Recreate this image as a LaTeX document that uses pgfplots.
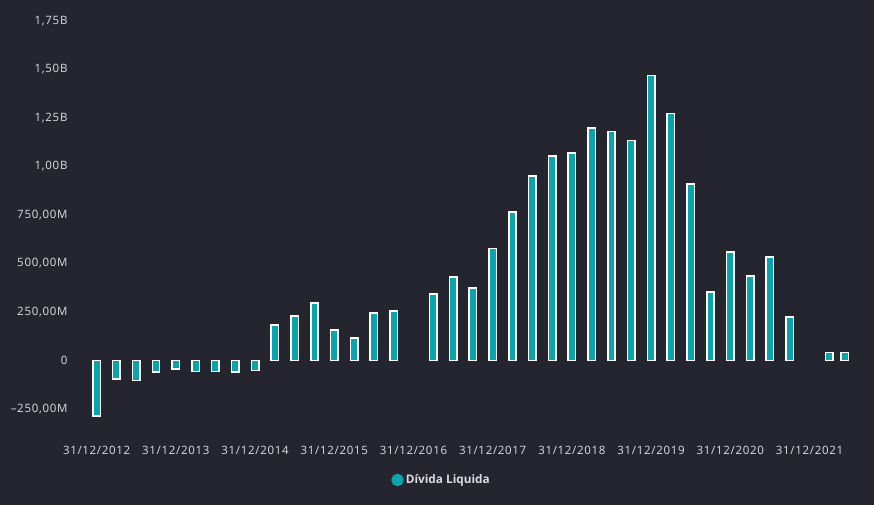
\documentclass[border=0pt]{standalone}
\usepackage{fontspec}
\setmainfont{Open Sans}
\newfontfamily\tickfont[LetterSpace=6,Ligatures=TeX]{Open Sans}
\usepackage{pgfplots}
\pgfplotsset{compat=1.18}
\definecolor{bg}{HTML}{24252F}
\definecolor{barteal}{HTML}{0AA4AF}
\definecolor{lbl}{HTML}{DCDCE2}

\begin{document}
\begin{tikzpicture}
\path[use as bounding box, fill=bg] (-80pt,-86.4pt) rectangle (794pt,418.6pt);
\begin{axis}[
  at={(0,0)}, anchor=south west,
  scale only axis, width=780pt, height=397.6pt,
  xmin=-0.84, xmax=38.55, ymin=-300, ymax=1750,
  enlarge x limits=false,
  axis line style={draw=none},
  tick style={draw=none},
  ybar, bar width=7.4pt,
  xtick={0,4,...,36},
  xticklabels={31/12/2012,31/12/2013,31/12/2014,31/12/2015,31/12/2016,31/12/2017,31/12/2018,31/12/2019,31/12/2020,31/12/2021},
  ytick={-250,0,250,500,750,1000,1250,1500,1750},
  yticklabels={{–250,00M},0,{250,00M},{500,00M},{750,00M},{1,00B},{1,25B},{1,50B},{1,75B}},
  ticklabel style={font=\tickfont\fontsize{11.5}{13}\selectfont, text=lbl},
  xticklabel style={yshift=-20pt},
  yticklabel style={anchor=east, xshift=-9pt},
  legend style={draw=none, fill=none, text=lbl, font=\bfseries\fontsize{11.8}{14}\selectfont,
    at={(0.4635,-0.1544)}, anchor=center},
  legend image code/.code={\fill[barteal] (-0.1em,0pt) circle (5.5pt);},
]
\addplot[fill=barteal, draw=white, line width=1.5pt] coordinates {
(0,-287) (1,-97) (2,-104) (3,-61) (4,-44) (5,-56) (6,-56) (7,-61) (8,-51)
(9,183) (10,228) (11,295) (12,156) (13,115) (14,244) (15,254)
(17,342) (18,430) (19,373) (20,578) (21,765) (22,951) (23,1055) (24,1070)
(25,1199) (26,1180) (27,1134) (28,1469) (29,1273) (30,910) (31,352)
(32,559) (33,435) (34,533) (35,223) (37,42) (37.77,42)
};
\addlegendentry{Dívida Liquida}
\end{axis}
\end{tikzpicture}
\end{document}
